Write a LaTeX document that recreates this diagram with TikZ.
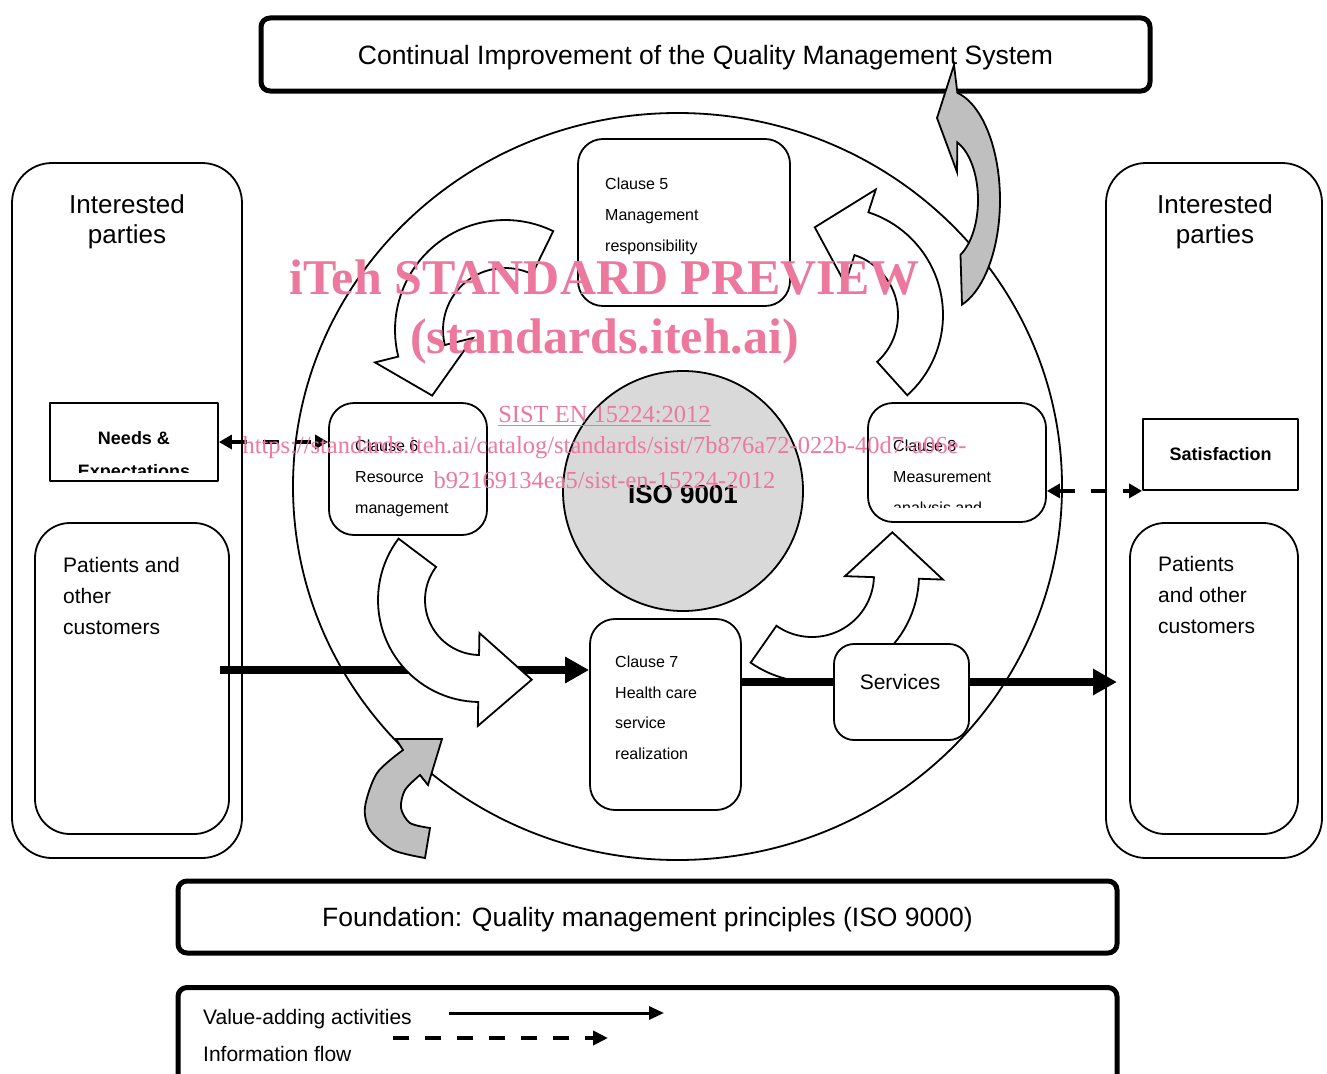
\documentclass[tikz,border=0pt]{standalone}
\usepackage{fontspec}
\setmainfont{Liberation Sans}
\newfontfamily\wmfont{Liberation Serif}
\usepackage{tikz}
\usetikzlibrary{arrows.meta,shapes.geometric}
\newcommand{\fsz}[2]{\fontsize{#1}{#2}\selectfont}
\definecolor{wmpink}{RGB}{236,120,158}
% bent block arrow: cx, cy, r inner, r outer, start, end, tip angle, tip radius, style
\newcommand{\bentarrow}[9]{%
  \draw[#9] plot[domain=#5:#6,samples=40] ({#1+#4*cos(\x)},{#2+#4*sin(\x)})
    -- ({#1+(#4+24)*cos(#6)},{#2+(#4+24)*sin(#6)})
    -- ({#1+#8*cos(#7)},{#2+#8*sin(#7)})
    -- ({#1+33*cos(#6)},{#2+33*sin(#6)})
    -- plot[domain=#6:#5,samples=40] ({#1+#3*cos(\x)},{#2+#3*sin(\x)})
    -- cycle;}

\begin{document}
\begin{tikzpicture}[x=1pt,y=-1pt
  ,line join=round
  ,inner sep=0pt]
  \tikzstyle{bar}=[draw,line width=5pt,rounded corners=9pt,minimum height=73pt,text depth=0pt]
  \tikzstyle{party}=[draw,line width=1.8pt,rounded corners=40pt]
  \tikzstyle{clause}=[draw,fill=white,line width=1.8pt,rounded corners=25pt]
  \tikzstyle{infobox}=[draw,line width=1.8pt]
  \tikzstyle{flow}=[line width=8pt,-{Triangle[length=24pt,width=25pt]}]
  \tikzstyle{plainflow}=[line width=8pt]
  \tikzstyle{info}=[line width=3.5pt,dash pattern=on 16pt off 16pt
    ,{Triangle[length=13pt,width=14pt]}-{Triangle[length=13pt,width=14pt]}]
  \tikzstyle{whitearrow}=[draw,fill=white,line width=1.8pt,line join=miter]
  \tikzstyle{grayarrow}=[draw,fill=black!25,line width=1.8pt,line join=miter]
  \tikzstyle{wm}=[text=wmpink]

  \useasboundingbox (0,0) rectangle (1327,1073);
  \clip (0,0) rectangle (1327,1073);

  % bars
  \node[bar,minimum width=889pt,font=\fsz{26.5}{30}] (improve) at (705.5,54.5)
    {Continual Improvement of the Quality Management System};
  \node[bar,minimum width=939pt,minimum height=72pt,font=\fsz{26.5}{30}] (found) at (647.5,917)
    {Foundation: Quality management principles (ISO 9000)};
  \node[bar,minimum width=939pt,minimum height=130pt,anchor=north] (legend) at (647.5,985) {};
  \node[anchor=west,font=\fsz{21}{25}] (valtxt) at (203,1019) {Value-adding activities};
  \node[anchor=west,font=\fsz{21}{25}] (infotxt) at (203,1054) {Information flow};
  \coordinate (va1) at (449,1013);
  \coordinate (va2) at (664,1013);
  \coordinate (if1) at (393,1038);
  \coordinate (if2) at (608,1038);
  \path[line width=3pt,-{Triangle[length=15pt,width=13pt]}] (va1) edge (va2);
  \path[line width=4pt,dash pattern=on 16pt off 16pt,-{Triangle[length=15pt,width=14pt]}] (if1) edge (if2);

  % interested parties
  \node[party,minimum width=230pt,minimum height=695pt] (leftparty) at (127,510.5) {};
  \node[party,rounded corners=35pt,minimum width=194pt,minimum height=311pt] (leftcust) at (132,678.5) {};
  \node[party,minimum width=216pt,minimum height=695pt] (rightparty) at (1214,510.5) {};
  \node[party,rounded corners=35pt,minimum width=168pt,minimum height=311pt] (rightcust) at (1214,678.5) {};
  \node[align=center,font=\fsz{26}{30}] (lefttitle) at (127,222) {Interested\\parties};
  \node[align=center,font=\fsz{26}{30}] (righttitle) at (1215,222) {Interested\\parties};
  \node[anchor=west,align=left,font=\fsz{21}{31}] (leftcusttxt) at (63,596) {Patients and\\other\\customers};
  \node[anchor=west,align=left,font=\fsz{21}{31}] (rightcusttxt) at (1158,595) {Patients\\and other\\customers};

  \node[infobox,minimum width=168pt,minimum height=78pt] (needs) at (134,442) {};
  \begin{scope}
    \clip (50,403) rectangle (218,472);
    \node[align=center,font=\bfseries\fsz{18}{33}] (needstxt) at (134,456) {Needs \&\\Expectations};
  \end{scope}
  \node[infobox,minimum width=155pt,minimum height=71pt,font=\bfseries\fsz{18}{22}] (sat) at (1220.5,454.5) {Satisfaction};

  % process circle
  \node[draw,ellipse,line width=1.8pt,minimum width=769pt,minimum height=747pt] (pdca) at (677.5,486.5) {};

  \node[clause,minimum width=212pt,minimum height=167pt] (c5) at (684,222.5) {};
  \node[anchor=west,align=left,font=\fsz{16}{31}] (c5txt) at (605,216) {Clause 5\\Management\\responsibility};
  \node[clause,minimum width=158pt,minimum height=132pt] (c6) at (408,469) {};
  \node[anchor=west,align=left,font=\fsz{16}{31}] (c6txt) at (355,478) {Clause 6\\Resource\\management};
  \node[clause,minimum width=151pt,minimum height=191pt] (c7) at (665.5,714.5) {};
  \node[anchor=west,align=left,font=\fsz{16}{30.5}] (c7txt) at (615,708) {Clause 7\\Health care\\service\\realization};
  \node[clause,minimum width=178pt,minimum height=119pt] (c8) at (957,462.5) {};
  \begin{scope}
    \clip (868,403) rectangle (1046,507);
    \node[anchor=west,align=left,font=\fsz{16}{31}] (c8txt) at (893,478) {Clause 8\\Measurement\\analysis and};
  \end{scope}

  \node[circle,draw,fill=black!15,line width=1.8pt,minimum size=240pt] (iso) at (683,491) {};
  \node[font=\bfseries\fsz{26}{30}] (isotxt) at (683,495) {ISO 9001};

  % flows
  \coordinate (flowin) at (220,670);
  \coordinate (outrow) at (0,682);
  \coordinate (outend) at (1117,682);
  \path[flow] (flowin) edge (flowin -| c7.west);
  \path[info] (needs.east) edge (needs.east -| c6.west);
  \path[info] (c8.east |- sat.south west) edge (sat.south west);

  \bentarrow{505}{330}{62}{110}{-64}{-194}{-222}{98}{whitearrow}
  \bentarrow{480}{600}{55}{102}{217}{91}{57}{95}{whitearrow}
  \bentarrow{812}{575}{62}{107}{125}{2}{-28}{91}{whitearrow}
  \bentarrow{835}{315}{63}{108}{48}{-72}{-103}{90}{whitearrow}

  \node[clause,rounded corners=20pt,minimum width=135pt,minimum height=96pt] (services) at (901.5,692) {};
  \node[font=\fsz{21}{25}] (servtxt) at (900,682) {Services};
  \path[plainflow] (c7.east |- outrow) edge (services.west |- outrow);
  \path[flow] (services.east |- outrow) edge (outend);

  % improvement loops
  \draw[grayarrow] plot[domain=72:-77,samples=40] ({945+55*cos(\x)},{200+110*sin(\x)})
    -- (954,65) -- (937,118) -- (957,172)
    -- plot[domain=-68:62,samples=40] ({945+33*cos(\x)},{200+62*sin(\x)}) -- cycle;
  \draw[grayarrow] (396,739) -- (442,739) -- (428,785) -- (420,775)
    -- plot[smooth] coordinates {(420,775) (405,790) (401,808) (410,823) (430,828)}
    -- (425,858)
    -- plot[smooth] coordinates {(425,858) (393,850) (370,830) (365,807) (377,773) (403,750)}
    -- cycle;

  % watermark
  \node[wm,font=\wmfont\bfseries\fsz{50}{55}] (wm1) at (604.5,278) {iTeh STANDARD PREVIEW};
  \node[wm,font=\wmfont\bfseries\fsz{50}{55}] (wm2) at (604.5,341) {(standards.iteh.ai)};
  \node[wm,font=\wmfont\fsz{24.5}{30}] (wm3) at (604.5,416) {\underline{SIST EN 15224:2012}};
  \node[wm,font=\wmfont\fsz{24.5}{30}] (wm4) at (604.5,448) {https://standards.iteh.ai/catalog/standards/sist/7b876a72-022b-40d7-a06e-};
  \node[wm,font=\wmfont\fsz{24.5}{30}] (wm5) at (604.5,480) {b92169134ea5/sist-en-15224-2012};
\end{tikzpicture}
\end{document}
